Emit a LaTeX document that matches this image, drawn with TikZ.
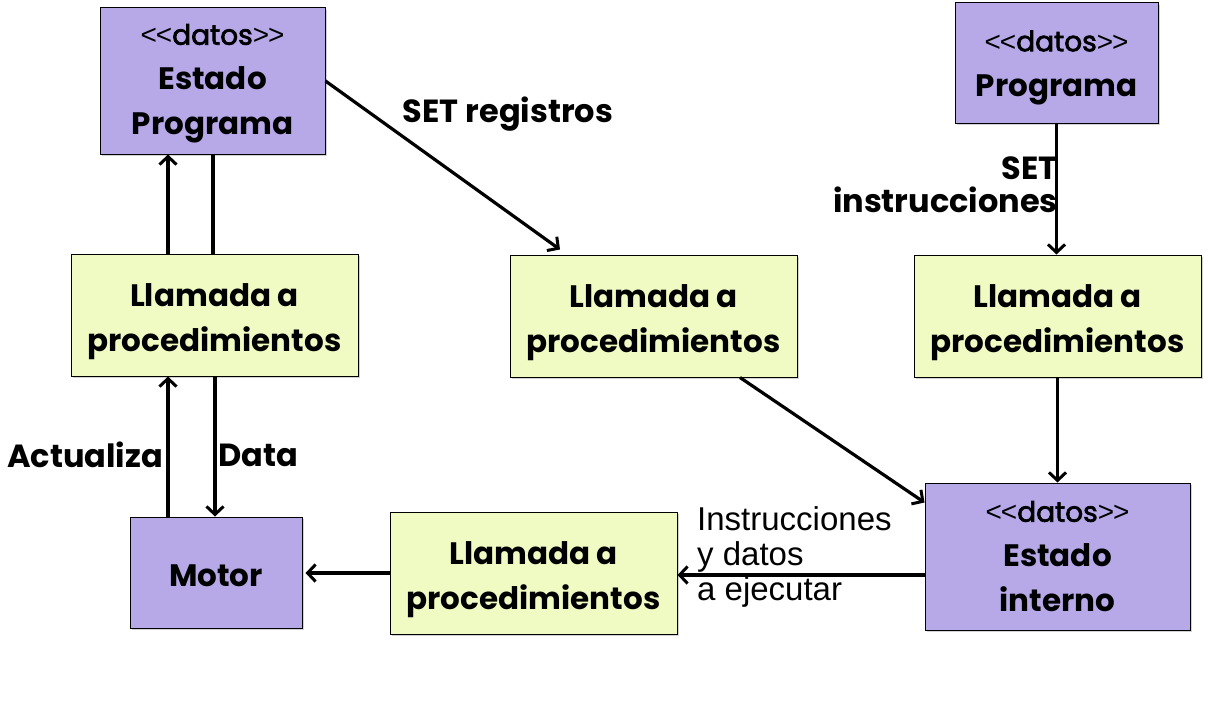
\documentclass[tikz,border=0pt]{standalone}
\usepackage{fontspec}
\setmainfont{Poppins}
\newfontfamily\medfont{Poppins}[FakeBold=2.5]
\newfontfamily\arialfont{Liberation Sans}
\usetikzlibrary{arrows.meta,shadows}
\definecolor{lav}{HTML}{B7A8E8}
\definecolor{pale}{HTML}{EFFBC3}
\tikzset{
  box/.style={draw=black, line width=1pt, rectangle, inner sep=0pt, align=center,
     drop shadow={opacity=0.35, shadow xshift=2pt, shadow yshift=-2pt},
     font=\fontsize{31}{45}\selectfont\bfseries},
  databox/.style={box, fill=lav},
  procbox/.style={box, fill=pale},
  arr/.style={line width=3.2pt, -{Straight Barb[length=8pt,width=17pt,line width=3pt]}},
  ln/.style={line width=3.2pt},
  lbl/.style={inner sep=0pt, font=\fontsize{32}{34}\selectfont\bfseries},
}
\newcommand{\dts}{{\medfont\mdseries\fontsize{28}{28}\selectfont{\arialfont <\kern-1pt<}datos{\arialfont >\kern-1pt>}}}
\newcommand{\lla}{\rule{0pt}{37pt}Llamada a}
\begin{document}
\begin{tikzpicture}[x=1pt,y=-1pt]
\useasboundingbox[fill=white] (0,0) rectangle (1208,701);
\node[databox, minimum width=225pt, minimum height=146pt] (EP) at (212.5,81) {\rule{0pt}{26pt}\dts\\Estado\\Programa};
\node[databox, minimum width=203pt, minimum height=120pt] (P) at (1056.5,63) {\rule{0pt}{30pt}\dts\\Programa};
\node[procbox, minimum width=287pt, minimum height=122pt] (LP1) at (214.5,315) {\lla\\procedimientos};
\node[procbox, minimum width=287pt, minimum height=122pt] (LP2) at (653.5,316) {\lla\\procedimientos};
\node[procbox, minimum width=287pt, minimum height=122pt] (LP3) at (1057.5,316) {\lla\\procedimientos};
\node[databox, minimum width=172pt, minimum height=111pt] (M) at (216,572.5) {\rule{0pt}{29pt}Motor};
\node[procbox, minimum width=287pt, minimum height=122pt] (LP4) at (533.5,573) {\lla\\procedimientos};
\node[databox, minimum width=265pt, minimum height=147pt] (EI) at (1057.5,556.5) {\dts\\Estado\\interno};

% left column
\draw[arr] ([xshift=-46.5pt]LP1.north) -- ([xshift=-46.5pt]LP1.north |- EP.south);
\draw[ln] ([xshift=0.5pt]EP.south) -- ([xshift=0.5pt]EP.south |- LP1.north);
\draw[arr] ([xshift=-48pt]M.north) -- ([xshift=-48pt]M.north |- LP1.south);
\draw[arr] ([xshift=-1pt]M.north |- LP1.south) -- ([xshift=-1pt]M.north);
% diagonal arrows
\draw[arr] (EP.east) -- ([xshift=-93.5pt,yshift=5pt]LP2.north);
\draw[arr] ([xshift=86.5pt]LP2.south) -- ([yshift=-20pt]EI.north west);
% right column
\draw[arr] (P.south) -- (P.south |- LP3.north);
\draw[arr] (LP3.south) -- (EI.north);
% bottom row
\draw[arr] ([yshift=-18.5pt]EI.west) -- ([yshift=-18.5pt]EI.west -| LP4.east);
\draw[arr] (LP4.west) -- ([xshift=3pt]LP4.west -| M.east);

% labels
\node[lbl] (l1) at (508,114) {SET registros};
\node[lbl, anchor=east] (l2) at (1058,168) {SET};
\node[lbl, anchor=east] (l3) at (1058,200) {instrucciones};
\node[lbl] (l4) at (85,455) {Actualiza};
\node[lbl] (l5) at (258,455) {Data};
\node[inner sep=0pt, anchor=north west, align=left, font=\arialfont\fontsize{33}{35}\selectfont] (l6) at (697,506) {Instrucciones\\y datos\\a ejecutar};
\end{tikzpicture}
\end{document}
